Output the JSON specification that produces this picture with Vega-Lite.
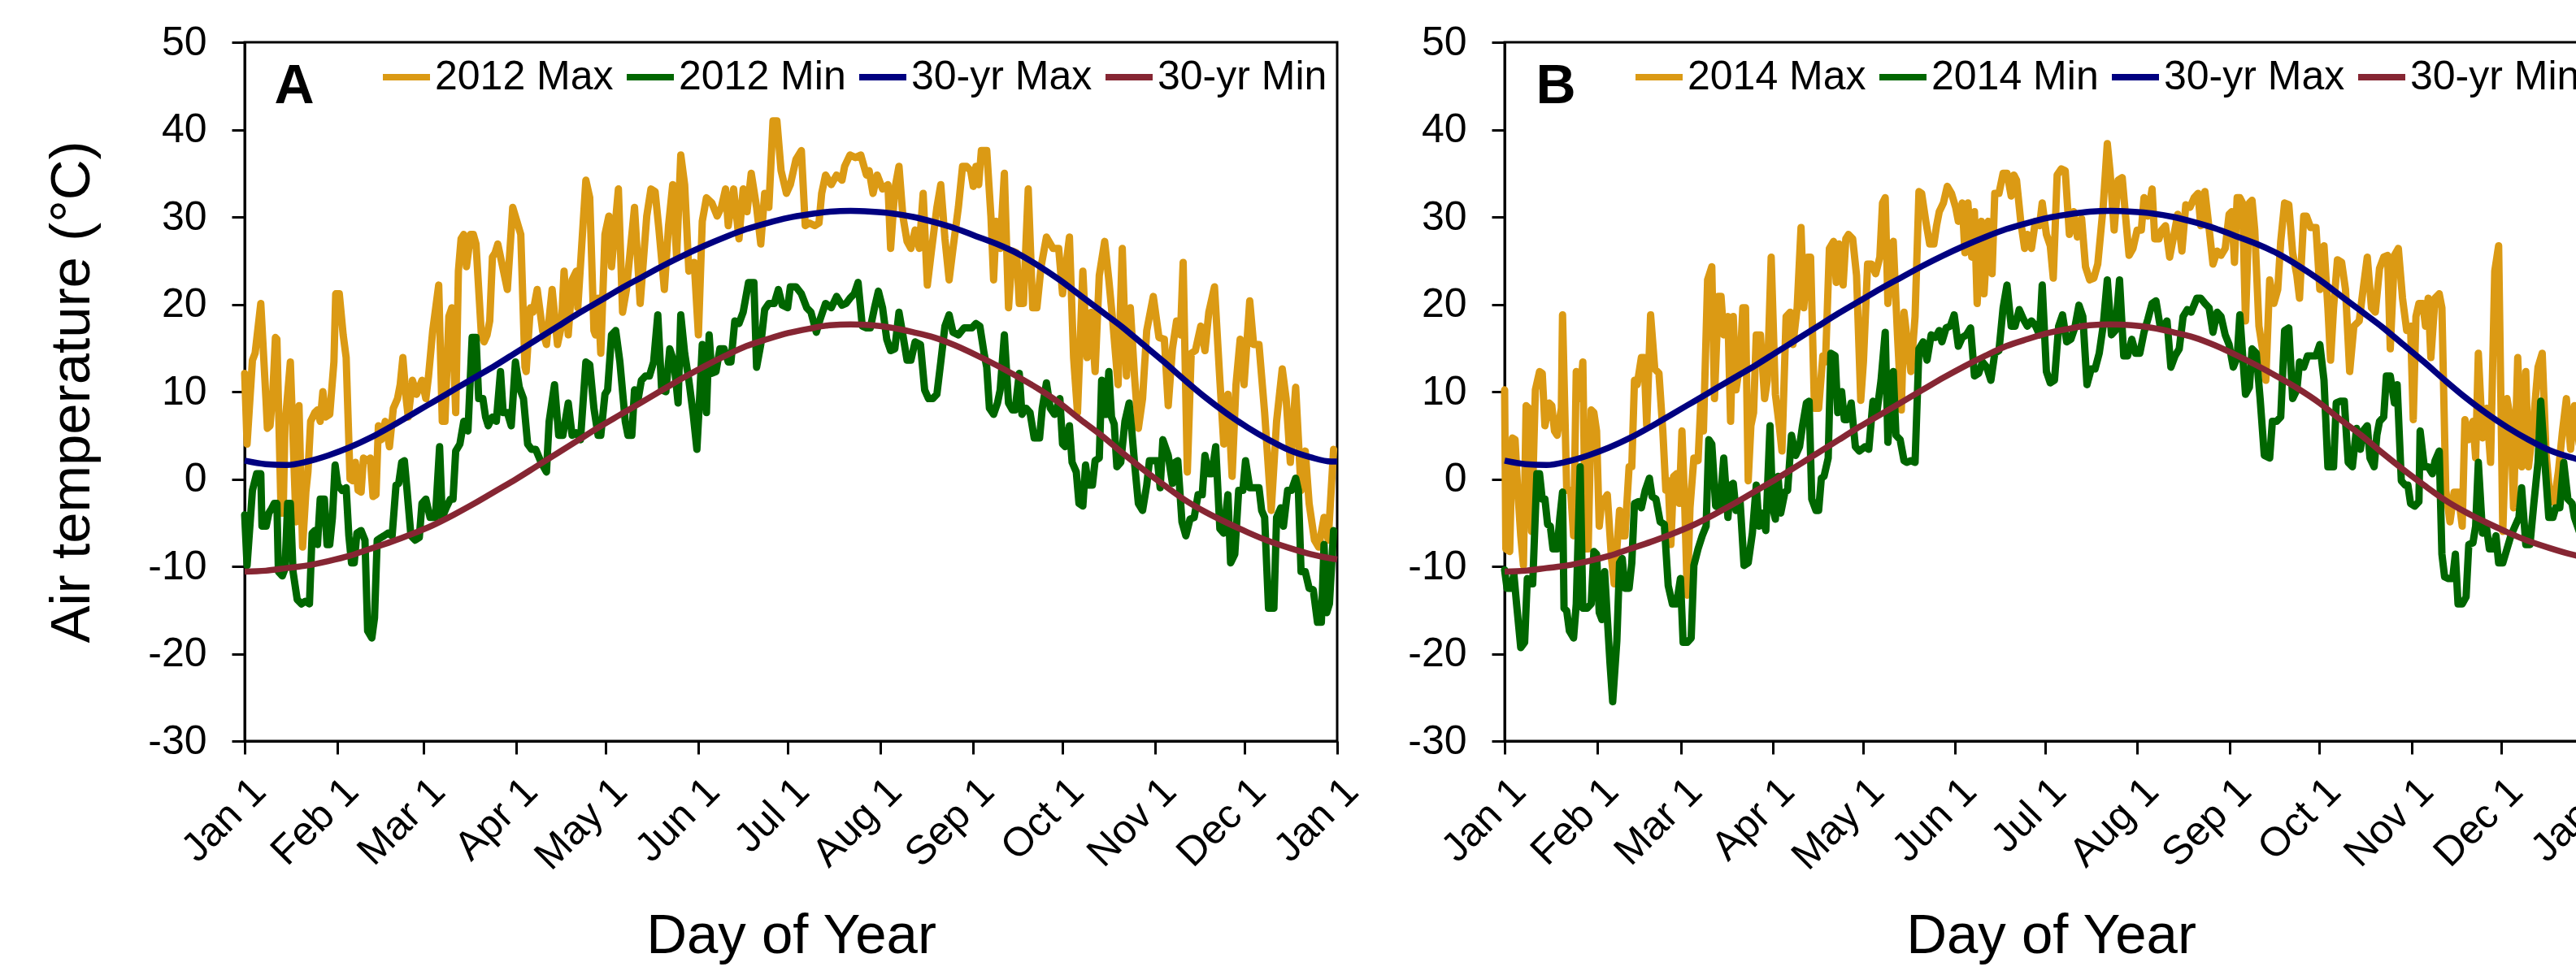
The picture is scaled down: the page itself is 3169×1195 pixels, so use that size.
{
"$schema": "https://vega.github.io/schema/vega-lite/v6.json",
"background": "white",
"padding": {"left": 53, "top": 25, "right": 0, "bottom": 0},
"config": {
  "font": "Liberation Sans",
  "view": {"stroke": "black", "strokeWidth": 3},
  "axis": {"grid": false, "domainColor": "black", "domainWidth": 3, "tickColor": "black", "tickWidth": 3, "tickSize": 16,
    "labelFont": "Liberation Sans", "labelFontSize": 50, "labelColor": "black",
    "titleFont": "Liberation Sans", "titleFontSize": 69, "titleFontWeight": "normal", "titleColor": "black"},
  "legend": {"symbolType": "stroke", "symbolStrokeWidth": 8, "symbolSize": 3364, "labelFont": "Liberation Sans", "labelFontSize": 50,
    "labelColor": "black", "labelOffset": 2, "columnPadding": 0, "padding": 0, "labelLimit": 0}
},
"datasets": {
"n": [{"d":0,"mx":2.1,"mn":-10.6},{"d":7,"mx":1.7,"mn":-10.5},{"d":14,"mx":1.6,"mn":-10.2},{"d":21,"mx":2.0,"mn":-9.9},{"d":28,"mx":2.7,"mn":-9.4},{"d":35,"mx":3.6,"mn":-8.8},{"d":42,"mx":4.7,"mn":-8.0},{"d":49,"mx":6.0,"mn":-7.2},{"d":56,"mx":7.4,"mn":-6.3},{"d":63,"mx":8.8,"mn":-5.3},{"d":70,"mx":10.2,"mn":-4.1},{"d":77,"mx":11.6,"mn":-2.8},{"d":84,"mx":13.0,"mn":-1.4},{"d":91,"mx":14.5,"mn":0.0},{"d":98,"mx":16.0,"mn":1.5},{"d":105,"mx":17.5,"mn":3.0},{"d":112,"mx":19.0,"mn":4.5},{"d":119,"mx":20.4,"mn":6.0},{"d":126,"mx":21.8,"mn":7.4},{"d":133,"mx":23.1,"mn":8.8},{"d":140,"mx":24.4,"mn":10.2},{"d":147,"mx":25.6,"mn":11.6},{"d":154,"mx":26.7,"mn":12.9},{"d":161,"mx":27.7,"mn":14.1},{"d":168,"mx":28.6,"mn":15.2},{"d":175,"mx":29.3,"mn":16.0},{"d":182,"mx":29.9,"mn":16.7},{"d":189,"mx":30.3,"mn":17.2},{"d":196,"mx":30.6,"mn":17.6},{"d":203,"mx":30.7,"mn":17.7},{"d":210,"mx":30.6,"mn":17.6},{"d":217,"mx":30.4,"mn":17.3},{"d":224,"mx":30.0,"mn":16.8},{"d":231,"mx":29.4,"mn":16.2},{"d":238,"mx":28.7,"mn":15.3},{"d":245,"mx":27.8,"mn":14.2},{"d":252,"mx":26.9,"mn":13.0},{"d":259,"mx":25.8,"mn":11.7},{"d":266,"mx":24.4,"mn":10.3},{"d":273,"mx":22.8,"mn":8.7},{"d":280,"mx":21.0,"mn":6.8},{"d":287,"mx":19.2,"mn":5.0},{"d":294,"mx":17.4,"mn":3.0},{"d":301,"mx":15.4,"mn":1.1},{"d":308,"mx":13.4,"mn":-0.7},{"d":315,"mx":11.3,"mn":-2.4},{"d":322,"mx":9.3,"mn":-3.8},{"d":329,"mx":7.5,"mn":-5.0},{"d":336,"mx":5.9,"mn":-6.1},{"d":343,"mx":4.5,"mn":-7.1},{"d":350,"mx":3.3,"mn":-7.9},{"d":357,"mx":2.5,"mn":-8.6},{"d":364,"mx":2.0,"mn":-9.1},{"d":366,"mx":2.0,"mn":-9.2}],
"amax": [{"d":0,"t":12.1},{"d":0.8,"t":4.0},{"d":2.6,"t":13.6},{"d":3.5,"t":14.4},{"d":5.4,"t":20.1},{"d":7.2,"t":8.7},{"d":7.6,"t":5.8},{"d":8.5,"t":6.1},{"d":9.4,"t":9.7},{"d":10.3,"t":16.2},{"d":10.8,"t":16.0},{"d":12.2,"t":-3.9},{"d":12.9,"t":-3.9},{"d":13.5,"t":6.1},{"d":15.3,"t":13.4},{"d":17.2,"t":-4.9},{"d":18.2,"t":8.4},{"d":19.4,"t":-7.8},{"d":20.5,"t":-1.5},{"d":21.2,"t":0.8},{"d":22.1,"t":6.6},{"d":23.5,"t":7.6},{"d":24.4,"t":7.9},{"d":25.3,"t":6.6},{"d":26.2,"t":10},{"d":27.1,"t":7.1},{"d":28.5,"t":7.4},{"d":29.9,"t":13.4},{"d":30.5,"t":21.2},{"d":31.7,"t":21.2},{"d":33,"t":16.5},{"d":34,"t":13.9},{"d":35.3,"t":0},{"d":36.2,"t":-0.2},{"d":37.1,"t":1.9},{"d":38,"t":-1.3},{"d":39,"t":-1.5},{"d":39.8,"t":2.4},{"d":41.2,"t":2.1},{"d":42.1,"t":2.4},{"d":43,"t":-2.0},{"d":44,"t":-1.8},{"d":44.8,"t":6.1},{"d":45.8,"t":4.5},{"d":47.1,"t":6.6},{"d":48.5,"t":3.7},{"d":49.8,"t":8.1},{"d":51.2,"t":9.2},{"d":52.1,"t":10.8},{"d":53,"t":13.9},{"d":54.1,"t":9.2},{"d":54.8,"t":7.1},{"d":56.2,"t":11.3},{"d":57.6,"t":9.7},{"d":59.4,"t":11.3},{"d":60.7,"t":9.2},{"d":61.6,"t":11.8},{"d":63,"t":17.0},{"d":65,"t":22.2},{"d":66.2,"t":6.6},{"d":67.1,"t":6.6},{"d":68.4,"t":18.6},{"d":69.4,"t":19.6},{"d":70.7,"t":7.6},{"d":71.6,"t":23.8},{"d":72.5,"t":27.5},{"d":73.4,"t":28.0},{"d":74.3,"t":24.3},{"d":75.7,"t":28.0},{"d":76.6,"t":28.0},{"d":77.5,"t":26.9},{"d":79.3,"t":16.5},{"d":80.2,"t":15.7},{"d":81.2,"t":16.5},{"d":82.1,"t":18.1},{"d":83,"t":25.4},{"d":83.9,"t":25.9},{"d":84.8,"t":26.9},{"d":86.1,"t":24.8},{"d":88,"t":21.7},{"d":89.8,"t":31.1},{"d":92.5,"t":28.0},{"d":93.9,"t":12.8},{"d":94.3,"t":12.3},{"d":95.7,"t":19.6},{"d":96.6,"t":19.1},{"d":98,"t":21.7},{"d":99.8,"t":17.0},{"d":101.1,"t":15.4},{"d":103,"t":21.7},{"d":104.8,"t":15.4},{"d":106.1,"t":17.5},{"d":107,"t":23.8},{"d":108.4,"t":16.5},{"d":109.7,"t":22.8},{"d":111.1,"t":23.8},{"d":111.6,"t":19.6},{"d":114.3,"t":34.2},{"d":115.6,"t":32.2},{"d":117,"t":17.0},{"d":117.5,"t":16.5},{"d":118.4,"t":20.7},{"d":119.3,"t":14.4},{"d":120.7,"t":28.0},{"d":122,"t":30.1},{"d":122.9,"t":24.3},{"d":125.2,"t":33.2},{"d":126.6,"t":19.1},{"d":127.9,"t":21.7},{"d":130.6,"t":31.1},{"d":132.5,"t":20.1},{"d":134.7,"t":30.1},{"d":136.1,"t":33.2},{"d":137.5,"t":32.9},{"d":138.8,"t":28.5},{"d":140.6,"t":21.7},{"d":142,"t":29.0},{"d":143.4,"t":33.7},{"d":144.7,"t":25.4},{"d":146.1,"t":37.1},{"d":147.4,"t":33.7},{"d":148.8,"t":23.8},{"d":150.6,"t":24.8},{"d":152,"t":16.5},{"d":153.3,"t":29.5},{"d":154.7,"t":32.2},{"d":156.5,"t":31.6},{"d":158.3,"t":30.1},{"d":159.7,"t":31.1},{"d":161.1,"t":33.2},{"d":162,"t":29.0},{"d":163.8,"t":33.2},{"d":165.6,"t":27.5},{"d":167,"t":33.2},{"d":168.3,"t":30.6},{"d":169.7,"t":35.0},{"d":171.5,"t":31.1},{"d":172.9,"t":26.9},{"d":174.2,"t":32.7},{"d":175.6,"t":31.1},{"d":177,"t":41.0},{"d":178.3,"t":41.0},{"d":179.7,"t":35.3},{"d":181.5,"t":32.7},{"d":182.8,"t":33.7},{"d":184.7,"t":36.6},{"d":186.5,"t":37.6},{"d":187.8,"t":29.0},{"d":189.2,"t":29.3},{"d":191,"t":29.0},{"d":192.4,"t":29.3},{"d":193.3,"t":32.7},{"d":194.6,"t":34.8},{"d":196.5,"t":33.7},{"d":198.3,"t":34.8},{"d":200.1,"t":34.2},{"d":201,"t":35.8},{"d":202.8,"t":37.1},{"d":204.6,"t":36.8},{"d":206.4,"t":37.1},{"d":208.3,"t":34.8},{"d":209.2,"t":35.3},{"d":210.5,"t":32.7},{"d":211.9,"t":34.8},{"d":213.7,"t":33.2},{"d":215.5,"t":33.7},{"d":216.4,"t":26.4},{"d":217.8,"t":33.2},{"d":219.2,"t":35.8},{"d":220.5,"t":30.1},{"d":221.9,"t":27.2},{"d":223.2,"t":26.4},{"d":224.6,"t":28.5},{"d":226,"t":26.4},{"d":227.3,"t":32.7},{"d":228.7,"t":22.2},{"d":230,"t":25.9},{"d":231.9,"t":31.1},{"d":233.2,"t":33.7},{"d":234.6,"t":27.5},{"d":236,"t":22.8},{"d":237.3,"t":26.4},{"d":239.1,"t":31.1},{"d":240.5,"t":35.8},{"d":241.8,"t":35.8},{"d":243.2,"t":35.3},{"d":244.1,"t":33.5},{"d":245,"t":35.8},{"d":245.9,"t":33.7},{"d":246.8,"t":37.6},{"d":248.6,"t":37.6},{"d":250,"t":30.1},{"d":250.9,"t":22.8},{"d":251.8,"t":29.5},{"d":253.1,"t":26.4},{"d":254.5,"t":35.0},{"d":255.9,"t":19.6},{"d":257.2,"t":26.1},{"d":258.6,"t":25.9},{"d":259.5,"t":20.1},{"d":260.9,"t":20.1},{"d":262.5,"t":33.2},{"d":264,"t":19.6},{"d":265.4,"t":19.6},{"d":266.8,"t":24.3},{"d":268.6,"t":27.7},{"d":270.8,"t":26.4},{"d":272.7,"t":26.4},{"d":274,"t":21.2},{"d":276.3,"t":27.7},{"d":277.7,"t":13.9},{"d":279,"t":7.6},{"d":280.8,"t":23.8},{"d":282.2,"t":13.9},{"d":283.6,"t":19.1},{"d":284.9,"t":12.3},{"d":286.3,"t":23.3},{"d":288.1,"t":27.2},{"d":289.5,"t":22.8},{"d":290.8,"t":18.1},{"d":292.6,"t":10.8},{"d":294,"t":26.4},{"d":295.4,"t":11.8},{"d":296.7,"t":19.6},{"d":298.1,"t":11.8},{"d":299.4,"t":5.8},{"d":300.8,"t":9.2},{"d":302.2,"t":17.0},{"d":304.4,"t":20.9},{"d":306.3,"t":16.2},{"d":308.1,"t":16.0},{"d":309.4,"t":8.4},{"d":310.8,"t":14.9},{"d":312.2,"t":18.1},{"d":313.5,"t":16.5},{"d":314.4,"t":24.8},{"d":315.8,"t":0.8},{"d":317.1,"t":14.4},{"d":318.5,"t":14.7},{"d":320.3,"t":17.5},{"d":321.7,"t":14.7},{"d":323,"t":19.1},{"d":324.9,"t":22.0},{"d":326.7,"t":11.3},{"d":328,"t":4.0},{"d":329.4,"t":9.7},{"d":330.8,"t":0.3},{"d":332.1,"t":10.8},{"d":333.5,"t":16.0},{"d":334.8,"t":10.8},{"d":336.7,"t":20.4},{"d":338,"t":15.4},{"d":339.8,"t":15.4},{"d":341.7,"t":7.6},{"d":343.9,"t":-3.6},{"d":345.7,"t":6.6},{"d":347.6,"t":12.6},{"d":348.9,"t":9.2},{"d":350.3,"t":1.9},{"d":352.1,"t":10.5},{"d":353.9,"t":-1.3},{"d":355.3,"t":3.2},{"d":356.6,"t":-2.8},{"d":358.4,"t":-7.0},{"d":359.8,"t":-7.8},{"d":361.6,"t":-4.4},{"d":363,"t":-7.0},{"d":364.8,"t":3.4}],
"amin": [{"d":0,"t":-4.1},{"d":0.8,"t":-9.9},{"d":2.6,"t":-1.3},{"d":4,"t":0.6},{"d":5.4,"t":0.6},{"d":5.8,"t":-5.4},{"d":7.2,"t":-5.4},{"d":8.1,"t":-3.9},{"d":9,"t":-3.4},{"d":9.9,"t":-2.8},{"d":10.8,"t":-2.8},{"d":11.3,"t":-10.6},{"d":12.6,"t":-11.1},{"d":13.5,"t":-10.3},{"d":14.4,"t":-2.8},{"d":15.3,"t":-2.8},{"d":16.2,"t":-10.6},{"d":17.6,"t":-13.8},{"d":19,"t":-14.3},{"d":20.3,"t":-14.0},{"d":21.7,"t":-14.3},{"d":22.6,"t":-6.2},{"d":23.5,"t":-5.9},{"d":24.4,"t":-7.5},{"d":25.3,"t":-2.3},{"d":26.7,"t":-2.3},{"d":27.6,"t":-7.5},{"d":28.5,"t":-7.5},{"d":29.4,"t":-4.4},{"d":30.3,"t":1.6},{"d":31.2,"t":-0.7},{"d":32.6,"t":-1.3},{"d":34,"t":-1.0},{"d":34.9,"t":-6.5},{"d":35.8,"t":-9.6},{"d":36.7,"t":-9.6},{"d":37.6,"t":-6.2},{"d":39,"t":-5.9},{"d":40.3,"t":-7.0},{"d":41.2,"t":-17.4},{"d":42.6,"t":-18.2},{"d":43.5,"t":-15.9},{"d":44.4,"t":-7.0},{"d":45.3,"t":-6.8},{"d":46.7,"t":-6.5},{"d":48,"t":-6.2},{"d":49.4,"t":-6.5},{"d":50.7,"t":-0.7},{"d":51.6,"t":-0.5},{"d":52.6,"t":1.9},{"d":53.5,"t":2.1},{"d":54.4,"t":-1.3},{"d":55.7,"t":-6.5},{"d":57.1,"t":-7.0},{"d":58.5,"t":-6.7},{"d":59.4,"t":-2.8},{"d":60.7,"t":-2.3},{"d":62.1,"t":-4.4},{"d":63.9,"t":-4.4},{"d":65.3,"t":3.7},{"d":66.2,"t":-4.4},{"d":67.5,"t":-3.3},{"d":68.9,"t":-2.3},{"d":69.8,"t":-2.3},{"d":70.7,"t":3.2},{"d":72.1,"t":4.0},{"d":73.4,"t":6.6},{"d":74.8,"t":5.5},{"d":76.2,"t":16.2},{"d":77.5,"t":16.2},{"d":78.4,"t":9.2},{"d":79.8,"t":9.2},{"d":80.7,"t":7.1},{"d":81.6,"t":6.1},{"d":83,"t":7.1},{"d":84.3,"t":6.6},{"d":85.7,"t":12.3},{"d":86.6,"t":7.6},{"d":88,"t":7.6},{"d":89.3,"t":6.1},{"d":90.7,"t":13.4},{"d":92,"t":10.5},{"d":93.4,"t":9.2},{"d":94.8,"t":4.0},{"d":96.1,"t":3.4},{"d":97.5,"t":3.4},{"d":99.3,"t":1.9},{"d":101.1,"t":0.8},{"d":102,"t":6.6},{"d":103.8,"t":10.8},{"d":105.2,"t":5.0},{"d":106.6,"t":5.0},{"d":108.4,"t":8.7},{"d":109.7,"t":5.0},{"d":111.1,"t":5.3},{"d":112.5,"t":4.5},{"d":114.3,"t":13.4},{"d":115.6,"t":13.1},{"d":117,"t":8.1},{"d":118.4,"t":5.0},{"d":119.3,"t":5.0},{"d":120.7,"t":9.7},{"d":121.6,"t":10.2},{"d":122.9,"t":16.5},{"d":124.3,"t":17.0},{"d":125.7,"t":13.4},{"d":127.5,"t":6.6},{"d":128.4,"t":5.0},{"d":129.7,"t":5.0},{"d":130.6,"t":10.2},{"d":131.6,"t":8.7},{"d":132.9,"t":11.3},{"d":134.3,"t":11.8},{"d":135.6,"t":11.8},{"d":137,"t":13.4},{"d":138.4,"t":18.8},{"d":139.7,"t":10.2},{"d":141.1,"t":10.0},{"d":142.4,"t":14.9},{"d":143.8,"t":13.4},{"d":145.2,"t":8.7},{"d":146.1,"t":18.8},{"d":147.4,"t":14.4},{"d":148.8,"t":11.3},{"d":150.2,"t":7.6},{"d":151.5,"t":3.4},{"d":152.4,"t":9.2},{"d":153.3,"t":15.4},{"d":154.7,"t":7.6},{"d":155.6,"t":16.5},{"d":156.5,"t":12.1},{"d":157.9,"t":12.3},{"d":159.2,"t":14.9},{"d":160.6,"t":14.9},{"d":162,"t":13.4},{"d":162.9,"t":13.4},{"d":164.2,"t":18.1},{"d":165.6,"t":17.8},{"d":167,"t":19.1},{"d":168.8,"t":22.5},{"d":170.6,"t":22.5},{"d":171.5,"t":12.8},{"d":172.9,"t":15.4},{"d":174.2,"t":19.4},{"d":175.6,"t":20.1},{"d":177.4,"t":20.1},{"d":178.8,"t":21.7},{"d":180.1,"t":19.9},{"d":181.9,"t":19.6},{"d":182.8,"t":22.0},{"d":184.7,"t":22.0},{"d":186.5,"t":21.2},{"d":188.3,"t":19.6},{"d":189.7,"t":19.1},{"d":191.5,"t":16.8},{"d":192.8,"t":18.3},{"d":194.6,"t":20.1},{"d":196.5,"t":19.6},{"d":198.3,"t":20.9},{"d":200.1,"t":19.9},{"d":201.5,"t":20.1},{"d":202.8,"t":20.7},{"d":204.2,"t":21.2},{"d":205.5,"t":22.5},{"d":206.9,"t":17.5},{"d":208.3,"t":17.3},{"d":209.6,"t":17.3},{"d":211,"t":19.6},{"d":212.3,"t":21.5},{"d":213.7,"t":19.6},{"d":215.1,"t":16.0},{"d":216.4,"t":14.7},{"d":217.8,"t":14.9},{"d":219.2,"t":19.1},{"d":220.5,"t":16.5},{"d":221.9,"t":13.6},{"d":223.2,"t":13.6},{"d":224.6,"t":15.7},{"d":226.4,"t":15.4},{"d":227.8,"t":10.2},{"d":229.1,"t":9.2},{"d":230.5,"t":9.2},{"d":231.9,"t":9.7},{"d":233.2,"t":13.4},{"d":234.6,"t":17.5},{"d":236,"t":18.8},{"d":237.3,"t":16.8},{"d":239.1,"t":16.5},{"d":241,"t":17.3},{"d":243.6,"t":17.3},{"d":245,"t":17.8},{"d":246.3,"t":17.5},{"d":247.7,"t":14.4},{"d":248.6,"t":12.8},{"d":249.5,"t":8.1},{"d":250.9,"t":7.4},{"d":252.2,"t":8.7},{"d":253.1,"t":10.2},{"d":254.5,"t":16.5},{"d":255.9,"t":8.7},{"d":257.2,"t":7.9},{"d":258.1,"t":7.9},{"d":259.5,"t":12.1},{"d":260.4,"t":7.4},{"d":261.8,"t":8.1},{"d":263.1,"t":7.6},{"d":264.5,"t":4.7},{"d":266.3,"t":4.7},{"d":267.2,"t":8.1},{"d":268.6,"t":11.0},{"d":269.9,"t":8.1},{"d":271.3,"t":7.4},{"d":273.1,"t":9.2},{"d":274,"t":4.0},{"d":274.9,"t":3.7},{"d":276.3,"t":6.1},{"d":277.2,"t":1.9},{"d":278.6,"t":0.8},{"d":279.5,"t":-2.8},{"d":280.8,"t":-3.1},{"d":281.7,"t":1.6},{"d":282.6,"t":-0.7},{"d":284,"t":-0.7},{"d":284.9,"t":2.1},{"d":286.3,"t":2.4},{"d":287.1,"t":11.3},{"d":287.9,"t":7.4},{"d":288.6,"t":7.4},{"d":289.5,"t":12.3},{"d":290.4,"t":7.1},{"d":291.3,"t":6.3},{"d":292.2,"t":1.4},{"d":293.5,"t":1.9},{"d":294.9,"t":6.6},{"d":296.3,"t":8.7},{"d":297.2,"t":5.5},{"d":298.1,"t":1.9},{"d":299.4,"t":-2.8},{"d":300.8,"t":-3.6},{"d":302.2,"t":-0.7},{"d":303.1,"t":2.1},{"d":304.4,"t":2.1},{"d":305.8,"t":2.1},{"d":306.7,"t":-1.0},{"d":307.6,"t":4.5},{"d":309.4,"t":2.7},{"d":310.8,"t":-0.5},{"d":311.7,"t":1.9},{"d":312.6,"t":2.1},{"d":314,"t":-4.9},{"d":315.3,"t":-6.5},{"d":316.7,"t":-4.6},{"d":318.1,"t":-4.4},{"d":319.4,"t":-1.8},{"d":320.8,"t":-1.8},{"d":321.7,"t":2.7},{"d":323,"t":0.6},{"d":324,"t":0.6},{"d":325.3,"t":3.7},{"d":326.7,"t":-5.7},{"d":328,"t":-6.2},{"d":329.4,"t":-1.8},{"d":330.3,"t":-9.6},{"d":331.7,"t":-8.6},{"d":333,"t":-1.3},{"d":334.4,"t":-1.3},{"d":335.3,"t":2.1},{"d":336.7,"t":-1.0},{"d":338,"t":-1.0},{"d":339.8,"t":-1.0},{"d":340.7,"t":-3.6},{"d":341.7,"t":-4.4},{"d":343,"t":-14.8},{"d":344.8,"t":-14.8},{"d":345.7,"t":-4.4},{"d":347.1,"t":-3.3},{"d":348,"t":-5.4},{"d":349.4,"t":-1.3},{"d":350.7,"t":-1.3},{"d":352.1,"t":0.1},{"d":353,"t":-1.3},{"d":353.9,"t":-10.6},{"d":355.3,"t":-10.6},{"d":356.6,"t":-12.5},{"d":358,"t":-12.7},{"d":359.4,"t":-16.4},{"d":360.7,"t":-16.4},{"d":361.6,"t":-7.5},{"d":362.5,"t":-15.3},{"d":363.4,"t":-14.3},{"d":364.8,"t":-5.9}],
"bmax": [{"d":0,"t":10.2},{"d":0.4,"t":-8.0},{"d":1.7,"t":-8.3},{"d":2.6,"t":4.7},{"d":3.5,"t":4.5},{"d":4.4,"t":-1.3},{"d":5.4,"t":-6.5},{"d":6.3,"t":-9.9},{"d":7.2,"t":8.4},{"d":8.1,"t":8.1},{"d":9,"t":-6.0},{"d":10.3,"t":10.2},{"d":11.7,"t":12.3},{"d":12.6,"t":12.1},{"d":13.5,"t":6.1},{"d":14.9,"t":8.7},{"d":15.8,"t":8.4},{"d":16.7,"t":5.5},{"d":17.6,"t":5.0},{"d":19,"t":8.1},{"d":19.4,"t":18.8},{"d":20.8,"t":-1.3},{"d":22.1,"t":-1.3},{"d":23.1,"t":-6.5},{"d":24,"t":12.3},{"d":25.3,"t":9.2},{"d":26.2,"t":13.4},{"d":27.1,"t":-8.0},{"d":28,"t":-8.0},{"d":29,"t":7.9},{"d":29.9,"t":7.6},{"d":30.8,"t":5.5},{"d":31.7,"t":-5.4},{"d":32.6,"t":-2.3},{"d":33.5,"t":-2.3},{"d":34.4,"t":-1.8},{"d":35.8,"t":-9.1},{"d":36.7,"t":-12.0},{"d":37.6,"t":-8.0},{"d":38.5,"t":-3.6},{"d":39.4,"t":-6.5},{"d":40.3,"t":-6.5},{"d":41.7,"t":1.4},{"d":42.6,"t":1.4},{"d":43.5,"t":11.3},{"d":44.4,"t":10.8},{"d":45.8,"t":13.9},{"d":46.7,"t":13.9},{"d":47.6,"t":6.1},{"d":48.9,"t":18.8},{"d":50.3,"t":12.6},{"d":51.7,"t":12.1},{"d":53,"t":5.5},{"d":54,"t":-1.3},{"d":54.8,"t":-0.2},{"d":55.7,"t":-7.5},{"d":56.6,"t":0.3},{"d":57.6,"t":0.6},{"d":58.5,"t":-2.8},{"d":59.4,"t":5.5},{"d":60.3,"t":-2.6},{"d":61.2,"t":-13.3},{"d":62.1,"t":-3.3},{"d":63.4,"t":2.4},{"d":64.8,"t":2.1},{"d":65.7,"t":8.7},{"d":66.6,"t":5.5},{"d":68,"t":22.8},{"d":69.4,"t":24.3},{"d":70.3,"t":9.2},{"d":71.6,"t":20.9},{"d":72.5,"t":20.9},{"d":73.4,"t":16.5},{"d":74.8,"t":18.6},{"d":75.7,"t":6.6},{"d":76.6,"t":18.6},{"d":77.5,"t":10.2},{"d":78.9,"t":13.4},{"d":79.8,"t":19.6},{"d":80.7,"t":19.6},{"d":81.6,"t":-0.2},{"d":82.5,"t":6.1},{"d":83.4,"t":7.6},{"d":84.3,"t":16.5},{"d":85.7,"t":16.5},{"d":87.1,"t":9.2},{"d":88,"t":11.3},{"d":89.3,"t":25.4},{"d":90.7,"t":9.7},{"d":92,"t":6.1},{"d":92.9,"t":3.2},{"d":94.3,"t":18.6},{"d":95.7,"t":19.1},{"d":96.6,"t":15.4},{"d":98,"t":19.6},{"d":99.3,"t":28.8},{"d":100.2,"t":19.6},{"d":101.6,"t":25.4},{"d":102.5,"t":25.4},{"d":103.8,"t":8.1},{"d":105.2,"t":8.1},{"d":106.6,"t":14.1},{"d":107.5,"t":13.4},{"d":108.8,"t":26.4},{"d":110.2,"t":27.2},{"d":111.1,"t":22.5},{"d":112,"t":26.9},{"d":113.4,"t":22.2},{"d":114.3,"t":27.5},{"d":115.2,"t":28.0},{"d":116.6,"t":27.5},{"d":117.9,"t":23.3},{"d":119.3,"t":9.0},{"d":120.2,"t":13.4},{"d":121.6,"t":24.6},{"d":122.9,"t":24.6},{"d":124.3,"t":23.5},{"d":125.7,"t":25.4},{"d":126.6,"t":31.6},{"d":127.5,"t":32.2},{"d":128.4,"t":20.1},{"d":129.3,"t":23.8},{"d":130.2,"t":27.2},{"d":131.6,"t":16.5},{"d":132.9,"t":7.9},{"d":133.8,"t":19.1},{"d":135.2,"t":14.9},{"d":136.1,"t":12.3},{"d":137.5,"t":18.6},{"d":138.8,"t":32.9},{"d":139.7,"t":32.7},{"d":141.1,"t":29.5},{"d":142.4,"t":26.9},{"d":143.8,"t":26.9},{"d":144.7,"t":29.0},{"d":145.6,"t":30.6},{"d":147,"t":31.6},{"d":148.3,"t":33.5},{"d":149.7,"t":32.7},{"d":151.1,"t":31.1},{"d":152,"t":29.5},{"d":153.3,"t":31.6},{"d":154.2,"t":25.9},{"d":155.2,"t":31.6},{"d":156.5,"t":25.4},{"d":157.4,"t":30.6},{"d":158.3,"t":20.1},{"d":159.7,"t":29.5},{"d":160.6,"t":21.2},{"d":162,"t":29.5},{"d":163.3,"t":23.5},{"d":164.2,"t":32.7},{"d":165.6,"t":32.7},{"d":167,"t":35.0},{"d":168.3,"t":35.0},{"d":169.7,"t":32.4},{"d":170.6,"t":34.8},{"d":171.5,"t":34.2},{"d":172.9,"t":29.5},{"d":174.2,"t":26.4},{"d":175.1,"t":28.0},{"d":176.5,"t":26.4},{"d":177.8,"t":29.5},{"d":179.2,"t":29.0},{"d":180.1,"t":31.6},{"d":181.5,"t":28.0},{"d":182.8,"t":26.7},{"d":183.8,"t":23.0},{"d":185.1,"t":34.8},{"d":186.5,"t":35.5},{"d":187.8,"t":35.3},{"d":189.2,"t":28.0},{"d":190.6,"t":30.6},{"d":191.9,"t":27.7},{"d":193.3,"t":29.8},{"d":194.6,"t":24.3},{"d":196,"t":22.8},{"d":197.4,"t":23.0},{"d":198.7,"t":24.6},{"d":200.5,"t":31.1},{"d":201.9,"t":38.4},{"d":202.8,"t":35.3},{"d":204.2,"t":28.5},{"d":205.5,"t":34.2},{"d":206.9,"t":34.5},{"d":208.3,"t":29.0},{"d":209.2,"t":25.6},{"d":210.5,"t":26.4},{"d":211.9,"t":28.5},{"d":213.3,"t":28.5},{"d":214.2,"t":32.2},{"d":215.5,"t":30.1},{"d":216.9,"t":33.2},{"d":217.8,"t":27.5},{"d":219.2,"t":27.5},{"d":220.1,"t":28.5},{"d":221.4,"t":29.0},{"d":222.8,"t":25.4},{"d":224.1,"t":27.7},{"d":225.5,"t":30.3},{"d":226.9,"t":26.1},{"d":228.2,"t":31.4},{"d":229.6,"t":31.1},{"d":231,"t":32.2},{"d":232.3,"t":32.7},{"d":233.2,"t":29.0},{"d":234.6,"t":32.9},{"d":235.9,"t":29.0},{"d":237.3,"t":24.6},{"d":238.7,"t":26.1},{"d":240,"t":25.6},{"d":241.4,"t":26.4},{"d":242.7,"t":30.3},{"d":243.6,"t":30.6},{"d":244.5,"t":24.8},{"d":245.4,"t":32.2},{"d":246.3,"t":32.2},{"d":247.2,"t":31.6},{"d":248.2,"t":18.1},{"d":249.5,"t":31.6},{"d":250.4,"t":31.9},{"d":251.3,"t":28.5},{"d":252.7,"t":17.5},{"d":254.1,"t":14.4},{"d":255,"t":11.3},{"d":256.3,"t":22.8},{"d":257.7,"t":20.1},{"d":259,"t":21.7},{"d":260,"t":27.2},{"d":261.3,"t":31.6},{"d":262.7,"t":31.4},{"d":264,"t":25.9},{"d":265.4,"t":23.3},{"d":266.3,"t":20.7},{"d":267.7,"t":30.1},{"d":268.6,"t":30.1},{"d":270,"t":28.8},{"d":271.8,"t":28.8},{"d":273.1,"t":21.7},{"d":274.5,"t":26.7},{"d":275.8,"t":19.6},{"d":276.7,"t":13.6},{"d":277.7,"t":19.6},{"d":279,"t":25.1},{"d":280.4,"t":24.8},{"d":281.7,"t":21.7},{"d":283.1,"t":12.3},{"d":284.5,"t":17.5},{"d":286.3,"t":18.1},{"d":287.6,"t":21.7},{"d":289,"t":25.4},{"d":290.4,"t":19.6},{"d":291.7,"t":19.1},{"d":293.1,"t":24.1},{"d":294.5,"t":25.4},{"d":295.8,"t":25.6},{"d":296.7,"t":14.9},{"d":298.1,"t":25.6},{"d":299.4,"t":26.4},{"d":300.8,"t":20.7},{"d":302.2,"t":17.0},{"d":303.5,"t":17.5},{"d":304.4,"t":6.8},{"d":305.3,"t":18.6},{"d":306.3,"t":20.1},{"d":307.6,"t":20.1},{"d":308.5,"t":17.5},{"d":309.4,"t":20.7},{"d":310.3,"t":13.9},{"d":311.7,"t":20.7},{"d":313.1,"t":21.2},{"d":314,"t":19.6},{"d":315.3,"t":-1.3},{"d":316.7,"t":-4.9},{"d":318.1,"t":-1.5},{"d":319.4,"t":-1.5},{"d":320.8,"t":-5.4},{"d":321.7,"t":6.8},{"d":323,"t":4.5},{"d":324.4,"t":6.6},{"d":325.3,"t":2.4},{"d":326.2,"t":14.4},{"d":327.6,"t":4.7},{"d":329,"t":8.1},{"d":330.3,"t":1.9},{"d":331.7,"t":23.8},{"d":333,"t":26.7},{"d":334.4,"t":-6.0},{"d":335.8,"t":9.2},{"d":337.1,"t":6.6},{"d":338,"t":-3.3},{"d":339.4,"t":13.9},{"d":340.7,"t":1.4},{"d":342.1,"t":12.3},{"d":343,"t":1.4},{"d":344.4,"t":5.5},{"d":346.2,"t":12.8},{"d":347.6,"t":14.4},{"d":348.9,"t":2.9},{"d":350.3,"t":-2.6},{"d":351.6,"t":-2.6},{"d":353,"t":0.8},{"d":354.4,"t":5.5},{"d":355.7,"t":9.2},{"d":357.1,"t":3.4},{"d":358.4,"t":8.4},{"d":360,"t":4.0},{"d":362,"t":1.5},{"d":364,"t":3.0}],
"bmin": [{"d":0,"t":-10.4},{"d":0.8,"t":-12.5},{"d":2.2,"t":-12.5},{"d":3.1,"t":-10.9},{"d":4,"t":-14.3},{"d":5.4,"t":-19.3},{"d":6.7,"t":-18.7},{"d":7.6,"t":-11.4},{"d":8.5,"t":-12.0},{"d":9.4,"t":-12.0},{"d":10.8,"t":0.6},{"d":11.7,"t":0.6},{"d":12.6,"t":-2.3},{"d":13.5,"t":-2.3},{"d":14.4,"t":-5.2},{"d":15.3,"t":-5.4},{"d":16.2,"t":-8.0},{"d":17.6,"t":-8.0},{"d":18.5,"t":-4.4},{"d":19.4,"t":-1.5},{"d":19.9,"t":-14.8},{"d":20.8,"t":-15.1},{"d":21.7,"t":-17.4},{"d":23.1,"t":-18.2},{"d":24,"t":-14.3},{"d":25.3,"t":1.4},{"d":26.2,"t":-14.8},{"d":27.6,"t":-14.8},{"d":29,"t":-14.3},{"d":29.9,"t":-8.3},{"d":30.8,"t":-8.6},{"d":31.7,"t":-15.3},{"d":32.6,"t":-16.1},{"d":33.5,"t":-10.6},{"d":34.4,"t":-15.9},{"d":35.3,"t":-21.1},{"d":36.2,"t":-25.5},{"d":37.6,"t":-18.5},{"d":38.5,"t":-9.6},{"d":39.4,"t":-9.1},{"d":40.3,"t":-12.5},{"d":41.7,"t":-12.5},{"d":42.6,"t":-9.6},{"d":43.5,"t":-2.8},{"d":44.8,"t":-2.6},{"d":45.8,"t":-3.3},{"d":47.1,"t":-1.3},{"d":48.5,"t":0.1},{"d":49.4,"t":-2.0},{"d":50.7,"t":-2.3},{"d":52.1,"t":-4.9},{"d":53.5,"t":-5.2},{"d":54.8,"t":-12.2},{"d":56.2,"t":-14.3},{"d":57.6,"t":-14.3},{"d":58.9,"t":-11.4},{"d":59.8,"t":-18.7},{"d":61.2,"t":-18.7},{"d":62.5,"t":-18.2},{"d":63.4,"t":-9.9},{"d":64.8,"t":-8.0},{"d":66.2,"t":-6.5},{"d":67.5,"t":-5.4},{"d":68.4,"t":4.5},{"d":69.4,"t":4.0},{"d":70.7,"t":-3.1},{"d":72.1,"t":-3.3},{"d":73.4,"t":2.4},{"d":74.8,"t":-4.4},{"d":75.7,"t":-0.7},{"d":76.6,"t":-0.5},{"d":77.5,"t":-3.6},{"d":78.9,"t":-2.6},{"d":80.2,"t":-9.9},{"d":81.6,"t":-9.6},{"d":83,"t":-6.2},{"d":84.3,"t":-0.7},{"d":85.2,"t":-5.4},{"d":86.1,"t":-3.9},{"d":87.5,"t":-5.9},{"d":88.9,"t":6.1},{"d":89.8,"t":-3.3},{"d":90.7,"t":-4.6},{"d":91.6,"t":0.3},{"d":92.5,"t":-3.9},{"d":93.9,"t":-1.5},{"d":94.8,"t":-1.3},{"d":96.1,"t":5.0},{"d":97.5,"t":2.7},{"d":98.8,"t":3.7},{"d":99.8,"t":6.1},{"d":101.1,"t":8.7},{"d":102,"t":8.9},{"d":102.9,"t":-2.3},{"d":104.3,"t":-3.6},{"d":105.2,"t":-3.6},{"d":106.1,"t":0.1},{"d":107,"t":0.3},{"d":108.4,"t":2.4},{"d":109.3,"t":14.4},{"d":110.7,"t":14.1},{"d":111.6,"t":7.6},{"d":112.9,"t":10.0},{"d":113.8,"t":6.8},{"d":114.7,"t":6.8},{"d":116.1,"t":8.7},{"d":117.5,"t":3.7},{"d":118.8,"t":3.2},{"d":120.7,"t":3.7},{"d":122,"t":3.4},{"d":123.4,"t":8.9},{"d":124.7,"t":7.6},{"d":126.1,"t":11.3},{"d":127.5,"t":16.8},{"d":128.4,"t":4.2},{"d":129.3,"t":9.2},{"d":130.2,"t":12.3},{"d":131.1,"t":5.0},{"d":132.5,"t":4.5},{"d":133.8,"t":2.1},{"d":134.7,"t":1.9},{"d":136.1,"t":2.1},{"d":137.5,"t":1.9},{"d":138.8,"t":14.9},{"d":140.2,"t":15.7},{"d":141.5,"t":13.6},{"d":142.9,"t":16.5},{"d":144.3,"t":16.2},{"d":145.6,"t":17.0},{"d":146.5,"t":15.7},{"d":147.9,"t":17.3},{"d":149.3,"t":17.5},{"d":150.6,"t":18.8},{"d":152,"t":15.2},{"d":153.3,"t":16.2},{"d":154.7,"t":16.5},{"d":156.1,"t":17.3},{"d":157.4,"t":11.8},{"d":158.8,"t":12.1},{"d":160.1,"t":13.4},{"d":161.5,"t":12.8},{"d":162.9,"t":11.3},{"d":164.2,"t":14.4},{"d":165.6,"t":14.7},{"d":167,"t":19.6},{"d":168.3,"t":22.2},{"d":169.7,"t":17.5},{"d":171,"t":17.5},{"d":172.4,"t":19.4},{"d":173.8,"t":18.3},{"d":175.1,"t":17.5},{"d":176.5,"t":18.1},{"d":177.9,"t":17.5},{"d":179.2,"t":16.5},{"d":180.1,"t":22.2},{"d":181.5,"t":12.3},{"d":182.8,"t":11.0},{"d":184.2,"t":11.3},{"d":185.6,"t":17.5},{"d":186.9,"t":18.8},{"d":188.3,"t":15.7},{"d":189.7,"t":16.0},{"d":191,"t":17.3},{"d":192.4,"t":19.9},{"d":193.7,"t":18.6},{"d":195.1,"t":10.8},{"d":196.5,"t":12.6},{"d":197.8,"t":12.6},{"d":199.2,"t":14.4},{"d":200.5,"t":17.5},{"d":201.9,"t":22.8},{"d":203.3,"t":16.5},{"d":204.6,"t":17.0},{"d":206,"t":22.8},{"d":207.4,"t":14.1},{"d":208.7,"t":14.1},{"d":210.1,"t":16.0},{"d":211.4,"t":14.4},{"d":212.8,"t":14.4},{"d":214.2,"t":16.8},{"d":215.5,"t":18.3},{"d":216.9,"t":20.1},{"d":218.2,"t":20.4},{"d":219.6,"t":17.5},{"d":221,"t":17.5},{"d":221.9,"t":18.1},{"d":223.2,"t":12.8},{"d":224.6,"t":14.1},{"d":226,"t":14.9},{"d":227.3,"t":18.6},{"d":228.7,"t":19.4},{"d":230,"t":19.1},{"d":231.9,"t":20.7},{"d":233.2,"t":20.7},{"d":234.6,"t":20.1},{"d":236,"t":19.6},{"d":237.3,"t":16.8},{"d":238.7,"t":19.1},{"d":240,"t":18.6},{"d":241.4,"t":16.5},{"d":242.7,"t":15.4},{"d":244.1,"t":12.8},{"d":245.4,"t":13.9},{"d":246.3,"t":18.8},{"d":247.2,"t":14.4},{"d":248.2,"t":9.7},{"d":249.5,"t":10.5},{"d":250.4,"t":14.9},{"d":251.8,"t":14.4},{"d":253.1,"t":9.2},{"d":254.5,"t":2.7},{"d":256.3,"t":2.4},{"d":257.2,"t":6.6},{"d":258.6,"t":6.6},{"d":260,"t":7.1},{"d":261.3,"t":17.0},{"d":262.7,"t":17.3},{"d":264,"t":9.2},{"d":265.4,"t":10.2},{"d":266.3,"t":13.4},{"d":267.7,"t":12.8},{"d":269,"t":14.1},{"d":270.4,"t":14.1},{"d":271.8,"t":14.1},{"d":273.1,"t":15.4},{"d":274.5,"t":11.3},{"d":275.8,"t":1.4},{"d":277.7,"t":1.4},{"d":278.6,"t":8.7},{"d":279.9,"t":8.9},{"d":281.3,"t":8.9},{"d":282.6,"t":1.9},{"d":284,"t":1.4},{"d":285.4,"t":5.8},{"d":286.7,"t":3.4},{"d":287.6,"t":5.5},{"d":289,"t":6.1},{"d":289.9,"t":2.4},{"d":291.3,"t":1.4},{"d":292.2,"t":5.0},{"d":293.1,"t":6.6},{"d":294.5,"t":7.1},{"d":295.4,"t":11.8},{"d":296.7,"t":11.8},{"d":298.1,"t":8.7},{"d":299,"t":10.8},{"d":300.4,"t":-0.2},{"d":301.7,"t":-0.7},{"d":302.6,"t":-0.7},{"d":303.5,"t":-2.8},{"d":304.9,"t":-3.1},{"d":306.3,"t":-2.6},{"d":306.7,"t":5.5},{"d":308.1,"t":1.4},{"d":309.4,"t":1.4},{"d":310.8,"t":0.6},{"d":311.7,"t":2.1},{"d":313.1,"t":3.2},{"d":314,"t":-8.6},{"d":314.9,"t":-11.2},{"d":316.2,"t":-11.4},{"d":317.6,"t":-11.4},{"d":318.5,"t":-8.6},{"d":319.4,"t":-14.3},{"d":320.8,"t":-14.3},{"d":322.1,"t":-13.5},{"d":323,"t":-7.5},{"d":324.4,"t":-7.3},{"d":325.3,"t":-5.4},{"d":326.2,"t":1.9},{"d":327.6,"t":-6.2},{"d":329,"t":-5.7},{"d":329.9,"t":-8.0},{"d":331.2,"t":-8.0},{"d":332.1,"t":-6.5},{"d":333,"t":-9.6},{"d":334.4,"t":-9.6},{"d":335.8,"t":-8.0},{"d":337.1,"t":-6.5},{"d":338.5,"t":-5.4},{"d":339.8,"t":-4.4},{"d":340.7,"t":-1.0},{"d":342.1,"t":-7.5},{"d":343.5,"t":-7.5},{"d":344.8,"t":-2.8},{"d":346.2,"t":1.9},{"d":347.1,"t":8.9},{"d":348.5,"t":1.9},{"d":349.8,"t":-4.4},{"d":351.2,"t":-4.4},{"d":352.1,"t":-3.3},{"d":353.5,"t":-3.3},{"d":354.8,"t":1.9},{"d":356.2,"t":-2.3},{"d":357.6,"t":-2.8},{"d":358.4,"t":-4.4},{"d":360,"t":-6.0},{"d":362,"t":-3.0},{"d":364,"t":-5.0}]
},
"hconcat": [
 {
  "width": 1344, "height": 860,
  "encoding": {
    "x": {"type": "quantitative", "title": "Day of Year",
      "scale": {"domain": [0, 366], "nice": false, "zero": false},
      "axis": {"values": [0,31,60,91,121,152,182,213,244,274,305,335,366],
        "labelExpr": "['Jan 1','Feb 1','Mar 1','Apr 1','May 1','Jun 1','Jul 1','Aug 1','Sep 1','Oct 1','Nov 1','Dec 1','Jan 1'][indexof([0,31,60,91,121,152,182,213,244,274,305,335,366], datum.value)]",
        "labelAngle": -45, "labelAlign": "right", "labelBaseline": "top", "labelPadding": 20, "labelFlush": false, "labelOverlap": false, "titlePadding": 38}},
    "y": {"type": "quantitative", "title": "Air temperature (°C)",
      "scale": {"domain": [-30, 50], "nice": false, "zero": false},
      "axis": {"values": [-30,-20,-10,0,10,20,30,40,50], "labelExpr": "'' + datum.value", "labelPadding": 31, "titlePadding": 58}}
  },
  "layer": [
    {"data": {"name": "amax"}, "mark": {"type": "line", "strokeWidth": 9, "strokeJoin": "round", "strokeCap": "round"},
     "encoding": {"x": {"field": "d"}, "y": {"field": "t"}, "color": {"datum": "2012 Max", "type": "nominal",
       "scale": {"domain": ["2012 Max", "2012 Min", "30-yr Max", "30-yr Min"], "range": ["#DB9A14", "#006600", "#000080", "#862633"]},
       "legend": {"orient": "none", "legendX": 166, "legendY": 10, "direction": "horizontal", "title": null}}}},
    {"data": {"name": "amin"}, "mark": {"type": "line", "strokeWidth": 9, "strokeJoin": "round", "strokeCap": "round"},
     "encoding": {"x": {"field": "d"}, "y": {"field": "t"}, "color": {"datum": "2012 Min", "type": "nominal"}}},
    {"data": {"name": "n"}, "mark": {"type": "line", "strokeWidth": 7.5, "interpolate": "monotone"},
     "encoding": {"x": {"field": "d"}, "y": {"field": "mx"}, "color": {"datum": "30-yr Max", "type": "nominal"}}},
    {"data": {"name": "n"}, "mark": {"type": "line", "strokeWidth": 7.5, "interpolate": "monotone"},
     "encoding": {"x": {"field": "d"}, "y": {"field": "mn"}, "color": {"datum": "30-yr Min", "type": "nominal"}}},
    {"data": {"values": [{"label": "A"}]}, "mark": {"type": "text", "fontSize": 68, "fontWeight": "bold", "color": "black", "align": "center", "baseline": "middle"},
     "encoding": {"x": {"datum": 16.6}, "y": {"datum": 44.9}, "text": {"field": "label"}}}
  ]
 },
 {
  "width": 1344, "height": 860,
  "encoding": {
    "x": {"type": "quantitative", "title": "Day of Year",
      "scale": {"domain": [0, 366], "nice": false, "zero": false},
      "axis": {"values": [0,31,59,90,120,151,181,212,243,273,304,334,365],
        "labelExpr": "['Jan 1','Feb 1','Mar 1','Apr 1','May 1','Jun 1','Jul 1','Aug 1','Sep 1','Oct 1','Nov 1','Dec 1','Jan 1'][indexof([0,31,59,90,120,151,181,212,243,273,304,334,365], datum.value)]",
        "labelAngle": -45, "labelAlign": "right", "labelBaseline": "top", "labelPadding": 20, "labelFlush": false, "labelOverlap": false, "titlePadding": 38}},
    "y": {"type": "quantitative", "title": null,
      "scale": {"domain": [-30, 50], "nice": false, "zero": false},
      "axis": {"values": [-30,-20,-10,0,10,20,30,40,50], "labelExpr": "'' + datum.value", "labelPadding": 31}}
  },
  "layer": [
    {"data": {"name": "bmax"}, "mark": {"type": "line", "strokeWidth": 9, "strokeJoin": "round", "strokeCap": "round"},
     "encoding": {"x": {"field": "d"}, "y": {"field": "t"}, "color": {"datum": "2014 Max", "type": "nominal",
       "scale": {"domain": ["2014 Max", "2014 Min", "30-yr Max", "30-yr Min"], "range": ["#DB9A14", "#006600", "#000080", "#862633"]},
       "legend": {"orient": "none", "legendX": 157, "legendY": 10, "direction": "horizontal", "title": null}}}},
    {"data": {"name": "bmin"}, "mark": {"type": "line", "strokeWidth": 9, "strokeJoin": "round", "strokeCap": "round"},
     "encoding": {"x": {"field": "d"}, "y": {"field": "t"}, "color": {"datum": "2014 Min", "type": "nominal"}}},
    {"data": {"name": "n"}, "mark": {"type": "line", "strokeWidth": 7.5, "interpolate": "monotone"},
     "encoding": {"x": {"field": "d"}, "y": {"field": "mx"}, "color": {"datum": "30-yr Max", "type": "nominal"}}},
    {"data": {"name": "n"}, "mark": {"type": "line", "strokeWidth": 7.5, "interpolate": "monotone"},
     "encoding": {"x": {"field": "d"}, "y": {"field": "mn"}, "color": {"datum": "30-yr Min", "type": "nominal"}}},
    {"data": {"values": [{"label": "B"}]}, "mark": {"type": "text", "fontSize": 68, "fontWeight": "bold", "color": "black", "align": "center", "baseline": "middle"},
     "encoding": {"x": {"datum": 17.2}, "y": {"datum": 44.9}, "text": {"field": "label"}}}
  ]
 }
],
"spacing": 206,
"bounds": "flush",
"resolve": {"scale": {"color": "independent"}, "legend": {"color": "independent"}}
}
